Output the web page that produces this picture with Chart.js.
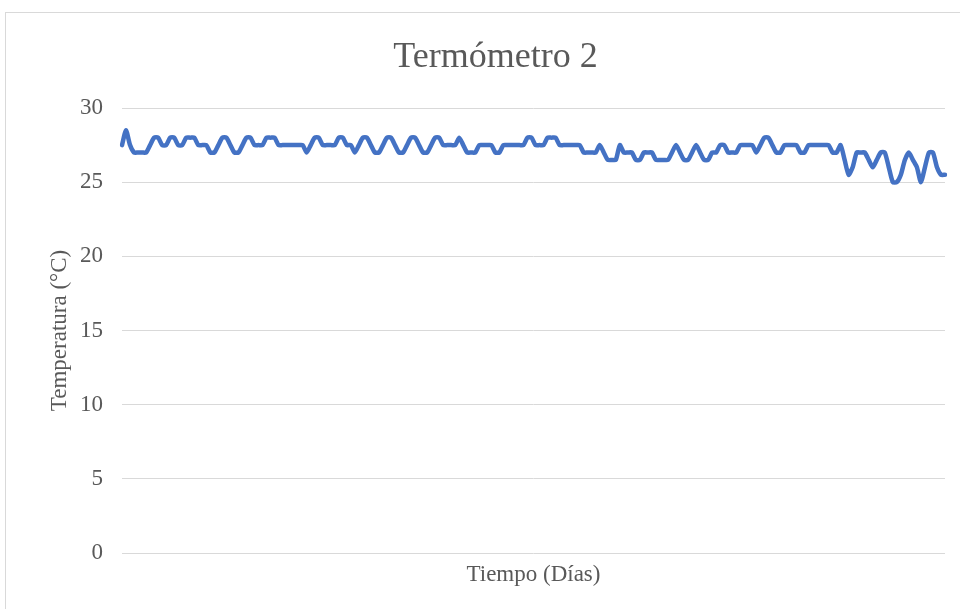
<!DOCTYPE html>
<html>
<head>
<meta charset="utf-8">
<script src="https://cdn.jsdelivr.net/npm/chart.js@4"></script>
<style>
  html, body { margin: 0; padding: 0; background: #ffffff; }
  #frame { position: absolute; left: 5px; top: 12px; width: 970px; height: 620px; border: 1px solid #d9d9d9; box-sizing: border-box; }
  #wrap { position: absolute; left: 0; top: 0; width: 960px; height: 609px; }
</style>
</head>
<body>
<div id="frame"></div>
<div id="wrap"><canvas id="tempChart" width="960" height="609"></canvas></div>
<script>
// readings of "Termómetro 2" (°C), one value per sample
const temperatura = [
  27.5, 28.5, 27.5, 27, 27, 27, 27, 27.5, 28, 28,
  27.5, 27.5, 28, 28, 27.5, 27.5, 28, 28, 28, 27.5,
  27.5, 27.5, 27, 27, 27.5, 28, 28, 27.5, 27, 27,
  27.5, 28, 28, 27.5, 27.5, 27.5, 28, 28, 28, 27.5,
  27.5, 27.5, 27.5, 27.5, 27.5, 27.5, 27, 27.5, 28, 28,
  27.5, 27.5, 27.5, 27.5, 28, 28, 27.5, 27.5, 27, 27.5,
  28, 28, 27.5, 27, 27, 27.5, 28, 28, 27.5, 27,
  27, 27.5, 28, 28, 27.5, 27, 27, 27.5, 28, 28,
  27.5, 27.5, 27.5, 27.5, 28, 27.5, 27, 27, 27, 27.5,
  27.5, 27.5, 27.5, 27, 27, 27.5, 27.5, 27.5, 27.5, 27.5,
  27.5, 28, 28, 27.5, 27.5, 27.5, 28, 28, 28, 27.5,
  27.5, 27.5, 27.5, 27.5, 27.5, 27, 27, 27, 27, 27.5,
  27, 26.5, 26.5, 26.5, 27.5, 27, 27, 27, 26.5, 26.5,
  27, 27, 27, 26.5, 26.5, 26.5, 26.5, 27, 27.5, 27,
  26.5, 26.5, 27, 27.5, 27, 26.5, 26.5, 27, 27, 27.5,
  27.5, 27, 27, 27, 27.5, 27.5, 27.5, 27.5, 27, 27.5,
  28, 28, 27.5, 27, 27, 27.5, 27.5, 27.5, 27.5, 27,
  27, 27.5, 27.5, 27.5, 27.5, 27.5, 27.5, 27, 27, 27.5,
  26.5, 25.5, 26, 27, 27, 27, 26.5, 26, 26.5, 27,
  27, 26, 25, 25, 25.5, 26.5, 27, 26.5, 26, 25,
  26, 27, 27, 26, 25.5, 25.5
];
const muestras = Array.from({ length: temperatura.length }, (_, i) => String(i + 1));
const yTicks = [0, 5, 10, 15, 20, 25, 30];

const textColor = "#595959";
const serif = "'Liberation Serif', 'Times New Roman', serif";

const ctx = document.getElementById("tempChart").getContext("2d");
new Chart(ctx, {
  type: "line",
  data: {
    labels: muestras,
    datasets: [{
      label: "Termómetro 2",
      data: temperatura,
      borderColor: "#4472C4",
      borderWidth: 4.5,
      tension: 0.2,
      pointRadius: 0,
      fill: false,
      borderCapStyle: "round",
      borderJoinStyle: "round"
    }]
  },
  options: {
    responsive: false,
    animation: false,
    layout: { padding: { left: 46, right: 15, top: 0, bottom: 20.4 } },
    plugins: {
      legend: { display: false },
      tooltip: { enabled: false },
      title: {
        display: true,
        text: "Termómetro 2",
        color: textColor,
        font: { family: serif, size: 36, weight: "normal", lineHeight: 1.2 },
        padding: { top: 36, bottom: 28.8 }
      }
    },
    scales: {
      x: {
        offset: false,
        grid: { display: false, drawTicks: false },
        border: { display: false },
        ticks: { display: false },
        title: {
          display: true,
          text: "Tiempo (Días)",
          color: textColor,
          font: { family: serif, size: 23, lineHeight: 1.2 },
          padding: { top: 8, bottom: 0 }
        }
      },
      y: {
        min: yTicks[0],
        max: yTicks[yTicks.length - 1],
        afterFit: (scale) => { scale.width = 76; },
        afterBuildTicks: (scale) => { scale.ticks = yTicks.map(v => ({ value: v })); },
        grid: { color: "#d9d9d9", lineWidth: 1, drawTicks: false },
        border: { display: false },
        ticks: {
          color: textColor,
          padding: 19,
          font: { family: serif, size: 23 }
        },
        title: {
          display: true,
          text: "Temperatura (°C)",
          color: textColor,
          font: { family: serif, size: 23, lineHeight: 1.2 },
          padding: { top: 0, bottom: 0 }
        }
      }
    }
  }
});
</script>
</body>
</html>
